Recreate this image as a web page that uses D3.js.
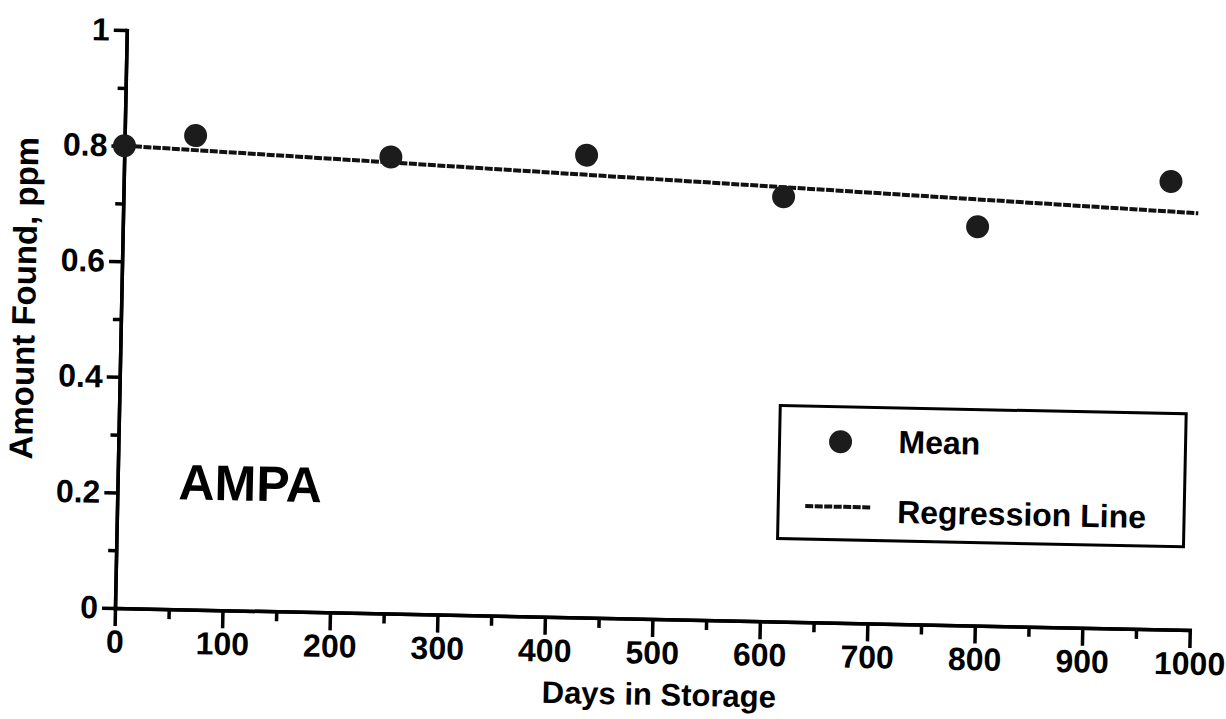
<!DOCTYPE html>
<html>
<head>
<meta charset="utf-8">
<script src="https://cdn.jsdelivr.net/npm/d3@7"></script>
<style>
body { margin:0; background:#fff; }
svg text { font-family:"Liberation Sans", Arial, Helvetica, sans-serif; font-weight:bold; fill:#000; }
.axis path, .axis line { stroke:#000; stroke-width:3.5; }
</style>
</head>
<body>
<svg id="graph1"></svg>
<script>
// days in storage and mean amount found (ppm)
var days = [0, 66, 248, 430, 614, 795, 974]
var meanAmount = [0.80, 0.82, 0.79, 0.80, 0.735, 0.69, 0.775]

// end points of the regression line
var regressionDays = [0, 1000]
var regressionAmount = [0.80, 0.721]

var xTicks = [0, 100, 200, 300, 400, 500, 600, 700, 800, 900, 1000]
var xMinorTicks = [50, 150, 250, 350, 450, 550, 650, 750, 850, 950]
var yTicks = [0, 0.2, 0.4, 0.6, 0.8, 1]
var yTickLabels = ["0", "0.2", "0.4", "0.6", "0.8", "1"]
var yMinorTicks = [0.1, 0.3, 0.5, 0.7, 0.9]

var legendLabels = ["Mean", "Regression Line"]

var initGraph = function()
{
    var screen = {width:1226, height:719}
    var margins = {left:115, top:30}
    var graph = {width:1075, height:578}

    var svg = d3.select("#graph1")
        .attr("width", screen.width)
        .attr("height", screen.height)

    // the scanned original sits a little crooked on the page
    var page = svg.append("g")
        .attr("transform", "rotate(1.17," + margins.left + "," + (margins.top + graph.height) + ")")

    var xScale = d3.scaleLinear()
        .domain([0, 1000])
        .range([0, graph.width])

    var yScale = d3.scaleLinear()
        .domain([0, 1])
        .range([graph.height, 0])

    var target = page.append("g")
        .attr("transform", "translate(" + margins.left + "," + margins.top + ")")

    drawAxis(target, graph, xScale, yScale)
    drawLine(target, xScale, yScale)
    drawPoints(target, xScale, yScale)
    drawLabels(target, graph)
    drawLegend(target)
}

var drawAxis = function(target, graph, xScale, yScale)
{
    var xAxis = d3.axisBottom(xScale)
        .tickValues(xTicks)
        .tickFormat(d3.format("d"))
        .tickSize(18)
        .tickSizeOuter(0)
        .tickPadding(4)

    var xMinor = d3.axisBottom(xScale)
        .tickValues(xMinorTicks)
        .tickFormat("")
        .tickSize(10)
        .tickSizeOuter(0)

    var yAxis = d3.axisLeft(yScale)
        .tickValues(yTicks)
        .tickFormat(function(d, i) { return yTickLabels[i] })
        .tickSize(13)
        .tickSizeOuter(0)
        .tickPadding(4)

    var yMinor = d3.axisLeft(yScale)
        .tickValues(yMinorTicks)
        .tickFormat("")
        .tickSize(8)
        .tickSizeOuter(0)

    var gx = target.append("g")
        .classed("axis", true)
        .attr("transform", "translate(0," + graph.height + ")")
    gx.call(xAxis)
    gx.append("g").call(xMinor)

    var gy = target.append("g")
        .classed("axis", true)
    gy.call(yAxis)
    gy.append("g").call(yMinor)

    target.selectAll(".axis path.domain")
        .attr("stroke-linecap", "square")
    target.selectAll(".axis text")
        .attr("font-size", 32)
        .attr("fill", "#000")
}

var drawLine = function(target, xScale, yScale)
{
    var pts = regressionDays.map(function(d, i) { return [d, regressionAmount[i]] })

    var line = d3.line()
        .x(function(d) { return xScale(d[0]) })
        .y(function(d) { return yScale(d[1]) })

    target.append("path")
        .datum(pts)
        .attr("d", line)
        .attr("fill", "none")
        .attr("stroke", "#111")
        .attr("stroke-width", 4)
        .attr("stroke-dasharray", "8,1.5")
}

var drawPoints = function(target, xScale, yScale)
{
    target.selectAll("circle.mean")
        .data(days)
        .enter()
        .append("circle")
        .classed("mean", true)
        .attr("cx", function(d) { return xScale(d) })
        .attr("cy", function(d, i) { return yScale(meanAmount[i]) })
        .attr("r", 11.5)
        .attr("fill", "#1c1c1c")
}

var drawLabels = function(target, graph)
{
    target.append("text")
        .text("Days in Storage")
        .attr("text-anchor", "middle")
        .attr("font-size", 31)
        .attr("x", graph.width / 2 + 8)
        .attr("y", graph.height + 86)

    target.append("text")
        .text("Amount Found, ppm")
        .attr("text-anchor", "middle")
        .attr("font-size", 33)
        .attr("transform", "translate(-86," + (graph.height / 2 - 19) + ") rotate(-90)")

    target.append("text")
        .text("AMPA")
        .attr("font-size", 50)
        .attr("x", 61)
        .attr("y", 468)
}

var drawLegend = function(target)
{
    var legend = target.append("g")
        .attr("transform", "translate(661,362)")

    legend.append("rect")
        .attr("width", 406)
        .attr("height", 133)
        .attr("fill", "none")
        .attr("stroke", "#000")
        .attr("stroke-width", 3)

    legend.append("circle")
        .attr("cx", 61)
        .attr("cy", 35)
        .attr("r", 11.5)
        .attr("fill", "#1c1c1c")

    legend.append("line")
        .attr("x1", 27)
        .attr("x2", 92)
        .attr("y1", 100)
        .attr("y2", 100)
        .attr("stroke", "#111")
        .attr("stroke-width", 4)
        .attr("stroke-dasharray", "8,1.5")

    legend.selectAll("text")
        .data(legendLabels)
        .enter()
        .append("text")
        .text(function(d) { return d })
        .attr("font-size", 32)
        .attr("x", 119)
        .attr("y", function(d, i) { return 45 + i * 70 })
}

initGraph()
</script>
</body>
</html>
